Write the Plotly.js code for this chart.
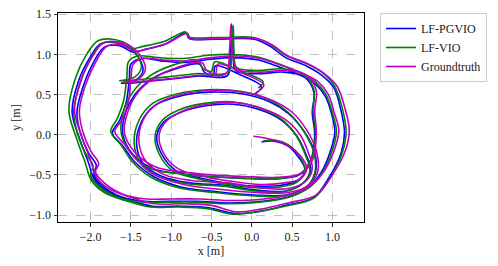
<!DOCTYPE html>
<html><head><meta charset="utf-8">
<script src="https://cdn.plot.ly/plotly-3.0.1.min.js"></script>
<style>html,body{margin:0;padding:0;background:#fff}#c{width:498px;height:266px}</style>
</head><body><div id="c"></div>
<script>
const seriesNames = ["LF-PGVIO", "LF-VIO", "Groundtruth"];
const xTicks = [-2.0, -1.5, -1.0, -0.5, 0.0, 0.5, 1.0];
const yTicks = [-1.0, -0.5, 0.0, 0.5, 1.0, 1.5];

const gtX = [0.02,0.2,0.42,0.6,0.68,0.6,0.4,0.1,-0.25,-0.6,-0.92,-1.1,-1.15,-1.05,-0.85,-0.55,-0.2,0.12,0.4,0.6,0.7,0.75,0.68,0.45,0.1,-0.3,-0.75,-1.08,-1.3,-1.4,-1.35,-1.18,-0.88,-0.5,-0.1,0.25,0.5,0.68,0.8,0.82,0.72,0.45,0.05,-0.4,-0.85,-1.2,-1.42,-1.58,-1.7,-1.6,-1.53,-1.5,-1.47,-1.35,-1.1,-0.8,-0.5,-0.2,0.1,0.38,0.62,0.82,0.95,1.02,1.08,1.02,0.9,0.75,0.5,0.15,-0.25,-0.65,-1.0,-1.3,-1.6,-1.83,-1.94,-1.9,-2.0,-2.1,-2.14,-2.07,-1.95,-1.8,-1.62,-1.45,-1.3,-1.05,-0.8,-0.76,-0.4,0.05,0.25,0.45,0.7,0.9,1.06,1.15,1.21,1.16,1.0,0.8,0.45,0.1,-0.2,-0.5,-0.85,-1.2,-1.5,-1.76,-1.92,-2.0,-2.1,-2.2,-2.12,-1.98,-1.85,-1.68,-1.5,-1.38,-1.32,-1.4,-1.6,-1.3,-1.0,-0.65,-0.32,-0.28,-0.26,-0.24,-0.18,0.1,0.42,0.68,0.8,0.78,0.8,0.76,0.62,0.3,-0.1,-0.5,-0.9,-1.2,-1.45,-1.58,-1.55,-1.42,-1.22,-0.92,-0.62,-0.56,-0.45,-0.42,-0.1,0.15,0.05];
const gtY = [-0.02,-0.05,-0.12,-0.26,-0.42,-0.55,-0.6,-0.62,-0.58,-0.52,-0.42,-0.22,0.0,0.18,0.3,0.38,0.4,0.33,0.2,0.0,-0.22,-0.42,-0.57,-0.67,-0.66,-0.6,-0.57,-0.5,-0.35,-0.1,0.18,0.38,0.5,0.55,0.53,0.43,0.28,0.06,-0.2,-0.45,-0.62,-0.72,-0.72,-0.68,-0.62,-0.5,-0.32,-0.12,0.04,0.2,0.42,0.7,0.88,0.95,0.93,0.92,0.96,0.98,0.95,0.86,0.77,0.66,0.5,0.28,0.05,-0.2,-0.45,-0.62,-0.74,-0.8,-0.82,-0.8,-0.8,-0.8,-0.74,-0.6,-0.46,-0.36,-0.2,0.05,0.3,0.6,0.88,1.1,1.12,1.04,1.07,1.14,1.26,1.2,1.2,1.2,1.12,0.98,0.88,0.76,0.6,0.35,0.05,-0.2,-0.5,-0.75,-0.85,-0.93,-0.96,-0.88,-0.86,-0.86,-0.78,-0.68,-0.54,-0.32,-0.05,0.3,0.68,0.97,1.14,1.16,1.1,0.98,0.82,0.7,0.65,0.67,0.7,0.74,0.76,1.0,1.37,1.0,0.82,0.78,0.8,0.74,0.55,0.3,0.02,-0.3,-0.48,-0.53,-0.52,-0.5,-0.46,-0.4,-0.22,0.02,0.25,0.52,0.7,0.84,0.9,0.8,0.76,0.88,0.76,0.62,0.52];

const pgX = [0.12,0.28,0.45,0.58,0.66,0.57,0.36,0.07,-0.27,-0.64,-0.95,-1.12,-1.18,-1.09,-0.88,-0.57,-0.23,0.1,0.37,0.56,0.67,0.73,0.64,0.42,0.06,-0.33,-0.77,-1.11,-1.34,-1.43,-1.37,-1.21,-0.9,-0.53,-0.12,0.22,0.46,0.65,0.78,0.79,0.68,0.42,0.03,-0.43,-0.88,-1.22,-1.45,-1.6,-1.73,-1.64,-1.56,-1.52,-1.5,-1.37,-1.13,-0.83,-0.52,-0.23,0.08,0.35,0.58,0.78,0.91,0.99,1.03,0.97,0.86,0.71,0.47,0.12,-0.28,-0.68,-1.03,-1.33,-1.63,-1.86,-1.96,-1.93,-2.03,-2.13,-2.17,-2.1,-1.98,-1.83,-1.64,-1.48,-1.33,-1.07,-0.81,-0.78,-0.42,0.03,0.23,0.42,0.67,0.87,1.02,1.1,1.15,1.11,0.96,0.77,0.42,0.08,-0.22,-0.53,-0.88,-1.23,-1.53,-1.79,-1.95,-2.03,-2.13,-2.23,-2.15,-2.01,-1.88,-1.7,-1.53,-1.41,-1.35,-1.43,-1.62,-1.33,-1.02,-0.68,-0.3,-0.27,-0.25,-0.23,-0.2,0.07,0.39,0.65,0.77,0.75,0.78,0.73,0.59,0.27,-0.13,-0.53,-0.93,-1.23,-1.48,-1.6,-1.58,-1.45,-1.25,-0.95,-0.65,-0.59,-0.48,-0.45,-0.13,0.12,0.03];
const pgY = [-0.09,-0.08,-0.14,-0.28,-0.44,-0.57,-0.63,-0.64,-0.61,-0.54,-0.44,-0.24,-0.02,0.16,0.28,0.36,0.38,0.31,0.18,-0.02,-0.24,-0.44,-0.6,-0.7,-0.69,-0.63,-0.6,-0.52,-0.37,-0.12,0.16,0.36,0.48,0.53,0.51,0.41,0.26,0.04,-0.22,-0.47,-0.65,-0.75,-0.75,-0.71,-0.65,-0.52,-0.34,-0.14,0.02,0.18,0.4,0.69,0.88,0.95,0.92,0.9,0.94,0.96,0.93,0.84,0.75,0.64,0.48,0.26,0.03,-0.22,-0.47,-0.65,-0.77,-0.83,-0.85,-0.83,-0.83,-0.83,-0.77,-0.63,-0.49,-0.38,-0.22,0.03,0.28,0.58,0.87,1.09,1.11,1.03,1.06,1.13,1.27,1.2,1.19,1.19,1.1,0.96,0.86,0.74,0.58,0.33,0.03,-0.22,-0.53,-0.78,-0.88,-0.96,-0.98,-0.91,-0.89,-0.89,-0.81,-0.71,-0.56,-0.34,-0.07,0.28,0.67,0.96,1.13,1.15,1.09,0.97,0.8,0.69,0.64,0.66,0.69,0.73,0.74,1.0,1.38,1.0,0.8,0.76,0.78,0.72,0.53,0.28,0.0,-0.32,-0.5,-0.55,-0.54,-0.52,-0.48,-0.42,-0.24,0.0,0.23,0.5,0.69,0.82,0.88,0.78,0.74,0.86,0.74,0.6,0.5];

const vioX = [0.14,0.3,0.46,0.6,0.66,0.56,0.35,0.05,-0.3,-0.66,-0.98,-1.15,-1.2,-1.11,-0.9,-0.59,-0.25,0.08,0.36,0.55,0.66,0.72,0.63,0.4,0.04,-0.36,-0.8,-1.14,-1.37,-1.46,-1.4,-1.23,-0.92,-0.55,-0.14,0.2,0.45,0.64,0.77,0.78,0.67,0.4,0.0,-0.46,-0.91,-1.25,-1.48,-1.62,-1.75,-1.67,-1.59,-1.55,-1.53,-1.42,-1.16,-0.85,-0.54,-0.25,0.06,0.34,0.57,0.77,0.92,1.0,1.05,0.99,0.87,0.71,0.46,0.1,-0.31,-0.71,-1.06,-1.36,-1.66,-1.9,-2.0,-1.97,-2.07,-2.17,-2.21,-2.14,-2.02,-1.87,-1.67,-1.5,-1.35,-1.09,-0.82,-0.79,-0.43,0.02,0.22,0.42,0.67,0.88,1.03,1.12,1.17,1.12,0.97,0.77,0.41,0.06,-0.24,-0.55,-0.9,-1.26,-1.57,-1.83,-1.99,-2.07,-2.17,-2.27,-2.19,-2.05,-1.91,-1.73,-1.55,-1.43,-1.37,-1.45,-1.64,-1.35,-1.04,-0.7,-0.29,-0.25,-0.23,-0.22,-0.19,0.06,0.38,0.64,0.77,0.76,0.79,0.74,0.59,0.26,-0.15,-0.55,-0.95,-1.26,-1.5,-1.62,-1.6,-1.47,-1.27,-0.97,-0.67,-0.61,-0.5,-0.46,-0.14,0.14,0.08];
const vioY = [-0.08,-0.07,-0.13,-0.28,-0.45,-0.59,-0.65,-0.66,-0.62,-0.55,-0.45,-0.24,-0.01,0.18,0.31,0.39,0.41,0.34,0.2,-0.01,-0.24,-0.45,-0.61,-0.71,-0.7,-0.64,-0.61,-0.53,-0.37,-0.11,0.18,0.39,0.51,0.56,0.54,0.44,0.28,0.05,-0.22,-0.48,-0.66,-0.76,-0.76,-0.72,-0.66,-0.53,-0.34,-0.13,0.04,0.2,0.43,0.72,0.91,0.98,0.96,0.95,0.99,1.0,0.97,0.88,0.78,0.67,0.5,0.27,0.04,-0.22,-0.48,-0.66,-0.78,-0.84,-0.86,-0.84,-0.84,-0.84,-0.78,-0.64,-0.5,-0.39,-0.22,0.04,0.3,0.61,0.91,1.13,1.15,1.07,1.1,1.16,1.28,1.22,1.21,1.21,1.13,0.99,0.89,0.77,0.6,0.34,0.03,-0.23,-0.54,-0.79,-0.89,-0.96,-0.99,-0.92,-0.9,-0.9,-0.82,-0.72,-0.57,-0.34,-0.06,0.3,0.7,1.0,1.17,1.19,1.13,1.0,0.84,0.72,0.67,0.69,0.72,0.76,0.78,1.02,1.36,1.02,0.84,0.8,0.82,0.76,0.56,0.3,0.02,-0.3,-0.49,-0.55,-0.54,-0.52,-0.48,-0.42,-0.23,0.02,0.26,0.54,0.73,0.87,0.93,0.83,0.79,0.91,0.79,0.66,0.58];

const FONT = "Liberation Serif";
function tr(name, x, y, color) {
  return {type: 'scatter', mode: 'lines', name: name, x: x, y: y,
    line: {color: color, width: 1.6, shape: 'spline', smoothing: 1}};
}
const data = [
  tr(seriesNames[0], pgX, pgY, '#0000ff'),
  tr(seriesNames[1], vioX, vioY, '#008000'),
  tr(seriesNames[2], gtX, gtY, '#bf00bf')
];
const axisCommon = {
  showline: true, mirror: true, linecolor: '#000', linewidth: 1,
  ticks: 'outside', ticklen: 3.5, tickwidth: 0.8, tickcolor: '#000',
  showgrid: true, gridcolor: '#b0b0b0', griddash: 'dash', gridwidth: 0.8,
  zeroline: false, tickformat: '.1f', tickfont: {family: FONT, size: 12, color: '#222'}
};
const layout = {
  width: 498, height: 266,
  margin: {l: 58, r: 133, t: 13, b: 44},
  paper_bgcolor: '#fff', plot_bgcolor: '#fff',
  font: {family: FONT, size: 12, color: '#222'},
  xaxis: Object.assign({}, axisCommon, {range: [-2.405, 1.392], tickmode: 'array', tickvals: xTicks,
    title: {text: 'x [m]', font: {family: FONT, size: 12, color: '#222'}, standoff: 3}}),
  yaxis: Object.assign({}, axisCommon, {range: [-1.087, 1.516], tickmode: 'array', tickvals: yTicks,
    title: {text: 'y [m]', font: {family: FONT, size: 12, color: '#222'}, standoff: 6}}),
  showlegend: true,
  legend: {x: 1.049, y: 1.0, xanchor: 'left', yanchor: 'top', bgcolor: '#fff',
    bordercolor: '#cccccc', borderwidth: 1, font: {family: FONT, size: 12, color: '#222'}, tracegroupgap: 0}
};
Plotly.newPlot('c', data, layout, {displayModeBar: false, staticPlot: true});
</script></body></html>
